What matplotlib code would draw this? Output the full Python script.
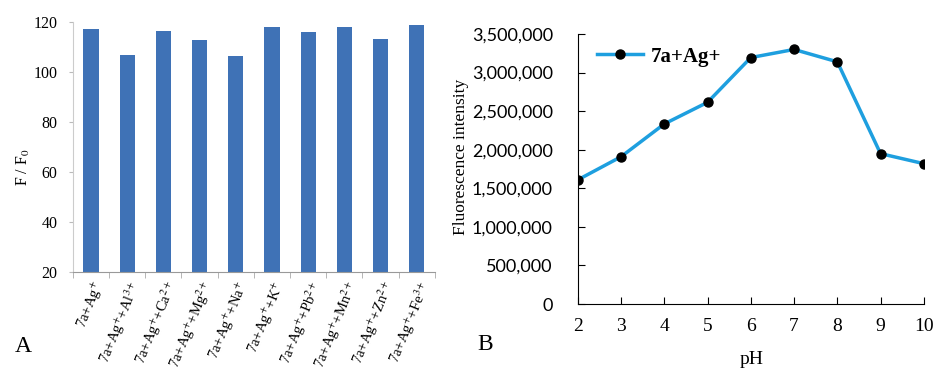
import matplotlib
matplotlib.use("Agg")
import matplotlib.pyplot as plt
from matplotlib.ticker import FuncFormatter
import numpy as np

plt.rcParams['font.family'] = ['Liberation Serif', 'DejaVu Serif']
plt.rcParams['mathtext.fontset'] = 'stix'

# panel A data
ions = ['7a+Ag$^{+}$', '7a+Ag$^{+}$+Al$^{3+}$', '7a+Ag$^{+}$+Ca$^{2+}$',
        '7a+Ag$^{+}$+Mg$^{2+}$', '7a+Ag$^{+}$+Na$^{+}$', '7a+Ag$^{+}$+K$^{+}$',
        '7a+Ag$^{+}$+Pb$^{2+}$', '7a+Ag$^{+}$+Mn$^{2+}$', '7a+Ag$^{+}$+Zn$^{2+}$',
        '7a+Ag$^{+}$+Fe$^{3+}$']
ratio = [117.2, 106.9, 116.6, 112.9, 106.5, 118.2, 116.0, 117.9, 113.4, 118.7]

# panel B data
ph = [2, 3, 4, 5, 6, 7, 8, 9, 10]
intensity = [1610000, 1910000, 2335000, 2615000, 3195000, 3300000, 3140000, 1950000, 1820000]

fig = plt.figure(figsize=(9.35, 3.74), dpi=100)

#左图 柱状图
ax1 = fig.add_axes([0.078, 0.273, 0.387, 0.668])
x = np.arange(len(ions))
ax1.bar(x, ratio, width=0.42, color='#3F72B6', bottom=0)
ax1.set_ylim(20, 120)
ax1.set_xlim(-0.5, len(ions) - 0.5)
ax1.set_yticks([20, 40, 60, 80, 100, 120])
ax1.set_xticks(x)
ax1.set_xticklabels(ions, rotation=68, ha='right', rotation_mode='anchor', fontsize=10.5)
ax1.set_xticks(np.arange(-0.5, len(ions)), minor=True)
ax1.tick_params(axis='x', which='major', length=0, pad=5)
ax1.tick_params(axis='x', which='minor', length=4, color='#aaaaaa')
ax1.tick_params(axis='y', length=3, color='#bbbbbb', labelsize=11.5, pad=8)
for s in ['top', 'right']:
    ax1.spines[s].set_visible(False)
ax1.spines['bottom'].set_color('#999999')
ax1.spines['left'].set_color('#cccccc')
ax1.set_ylabel('F / F$_0$', fontsize=11.5)
ax1.yaxis.set_label_coords(-0.114, 0.42)
fig.text(0.016, 0.06, 'A', fontsize=17)

#右图 pH曲线
ax2 = fig.add_axes([0.618, 0.187, 0.370, 0.722])
ax2.plot(ph, intensity, color='#1E9FDF', linewidth=2.5, marker='o',
         markersize=6.5, markerfacecolor='black', markeredgecolor='black',
         label='7a+Ag+')
ax2.set_xlim(2, 10)
ax2.set_ylim(0, 3500000)
ax2.set_xticks(ph)
ax2.set_yticks(np.arange(0, 3500001, 500000))
ax2.yaxis.set_major_formatter(FuncFormatter(lambda v, p: '{:,.0f}'.format(v)))
ax2.tick_params(axis='both', length=5, direction='in')
ax2.tick_params(axis='x', labelsize=14, pad=10)
ax2.tick_params(axis='y', labelsize=13, pad=18)
for lab in ax2.get_yticklabels():
    lab.set_family(['Lato', 'DejaVu Sans'])
for s in ['top', 'right']:
    ax2.spines[s].set_visible(False)
ax2.set_xlabel('pH', fontsize=14)
ax2.xaxis.set_label_coords(0.503, -0.175)
ax2.set_ylabel('Fluorescence intensity', fontsize=12.5)
ax2.yaxis.set_label_coords(-0.315, 0.545)
leg = ax2.legend(loc='upper left', frameon=False, prop={'weight': 'bold', 'size': 15},
                 handlelength=2.2, handletextpad=0.35, borderaxespad=0.2,
                 bbox_to_anchor=(0.02, 1.0))
fig.text(0.511, 0.065, 'B', fontsize=17)

plt.savefig('out.png', dpi=100)
